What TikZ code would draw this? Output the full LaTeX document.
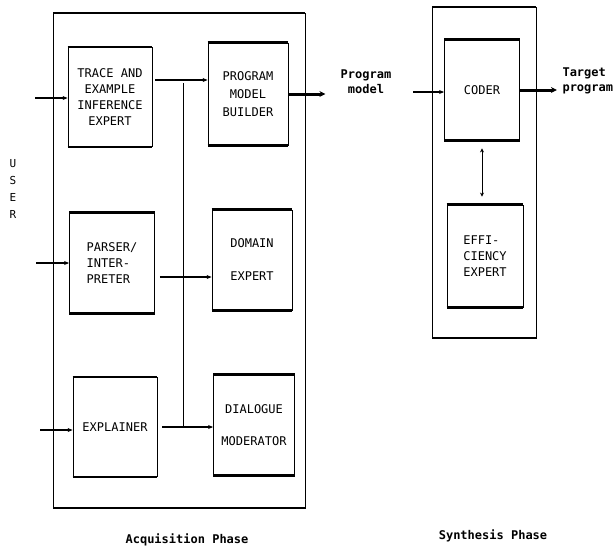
\documentclass[tikz,border=0pt]{standalone}
\usepackage{fontspec}
\setmonofont{DejaVu Sans Mono}
\usetikzlibrary{arrows.meta}

\begin{document}
\begin{tikzpicture}[x=1pt, y=-1pt,
    font=\ttfamily\fontsize{12}{16}\selectfont,
    blk/.style={draw, line width=0.8pt, minimum width=82pt, minimum height=100pt, inner sep=0pt},
    arr/.style={-{Stealth[length=5pt,width=4pt]}, line width=1.3pt},
    fat/.style={-{Stealth[length=6pt,width=6pt]}, line width=3pt},
    heavy/.style={line width=2.6pt},
    lbl/.style={font=\ttfamily\bfseries\fontsize{12}{15}\selectfont}]

    \useasboundingbox (0,0) rectangle (613,547);

    % Frames of the two phases
    \coordinate (A1) at (53,13);
    \coordinate (A2) at (305,508);
    \coordinate (S1) at (432,7);
    \coordinate (S2) at (536,338);
    \draw[line width=0.8pt] (A1) rectangle (A2);
    \draw[heavy] (A1) -- (A1 -| A2) (A2 -| A1) -- (A2);
    \draw[line width=0.8pt] (S1) rectangle (S2);
    \draw[heavy] (S1) -- (S1 -| S2) (S2 -| S1) -- (S2);

    % Experts
    \node[blk, minimum width=84pt, minimum height=99pt, align=center] (trace) at (110,97) {TRACE AND\\EXAMPLE\\INFERENCE\\EXPERT};
    \node[blk, minimum width=80pt, minimum height=102pt, align=center] (builder) at (248,94) {PROGRAM\\[2pt]MODEL\\[2pt]BUILDER};
    \node[blk, minimum width=85pt, align=left] (parser) at (112,263) {PARSER/\\INTER-\\PRETER};
    \node[blk, minimum width=80pt, align=center] (domain) at (252,260) {DOMAIN\\[17pt]EXPERT};
    \node[blk, minimum width=84pt, minimum height=99pt] (explainer) at (115,427) {EXPLAINER};
    \node[blk, minimum width=81pt, align=center] (dialogue) at (254,425) {DIALOGUE\\[16pt]MODERATOR};
    \node[blk, minimum width=75pt] (coder) at (482,90) {CODER};
    \node[blk, minimum width=76pt, minimum height=102pt, align=left] (effic) at (485,256) {EFFI-\\CIENCY\\EXPERT};

    % Heavy top and bottom edges
    \foreach \n in {trace,builder,parser,domain,explainer,dialogue,coder,effic}
        \draw[heavy] (\n.north west) -- (\n.north east) (\n.south west) -- (\n.south east);

    % Inputs from the user
    \node[align=center, font=\ttfamily\fontsize{11}{17}\selectfont] (user) at (13,189) {U\\S\\E\\R};
    \coordinate (u1) at (35,98);
    \coordinate (u2) at (36,263);
    \coordinate (u3) at (40,430);
    \draw[arr] (u1) -- (u1 -| trace.west);
    \draw[arr] (u2) -- (u2 -| parser.west);
    \draw[arr] (u3) -- (u3 -| explainer.west);

    % Links across the acquisition phase
    \coordinate (b1) at (183,80);
    \coordinate (b2) at (183,277);
    \coordinate (b3) at (183,427);
    \draw[arr, shorten <=3pt] (b1 -| trace.east) -- (b1 -| builder.west);
    \draw[arr, shorten <=5pt] (b2 -| parser.east) -- (b2 -| domain.west);
    \draw[arr, shorten <=5pt] (b3 -| explainer.east) -- (b3 -| dialogue.west);
    \draw[line width=0.8pt] (b1) ++(0,3) -- (b3);

    % Program model handed to the synthesis phase
    \draw[fat] (builder.east) -- ++(37,0);
    \node[lbl, align=center] (pm) at (366,82) {Program\\model};
    \coordinate (c1) at (413,92);
    \draw[arr] (c1) -- (c1 -| coder.west);
    \draw[{Stealth[length=4pt,width=4pt]}-{Stealth[length=4pt,width=4pt]}, line width=0.8pt,
        shorten <=8pt, shorten >=8pt] (coder.south) -- (coder.south |- effic.north);
    \draw[fat] (coder.east) -- ++(37,0);
    \node[lbl, align=left, anchor=west] (tp) at (559,81) {Target\\program};

    % Phase names
    \node[lbl] (acq) at (187,540) {Acquisition Phase};
    \node[lbl] (syn) at (493,536) {Synthesis Phase};

\end{tikzpicture}
\end{document}
